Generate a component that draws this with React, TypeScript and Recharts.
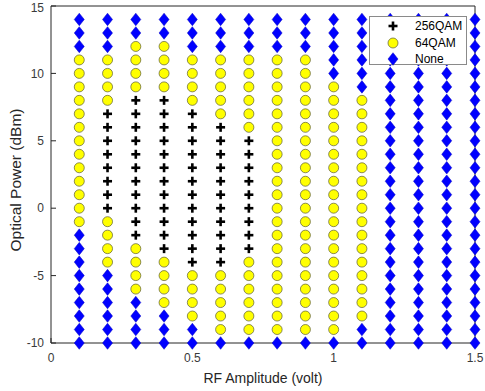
import React from 'react';
import { ScatterChart, Scatter, XAxis, YAxis, Legend, Label } from 'recharts';

const amplitudes = [0.1, 0.2, 0.3, 0.4, 0.5, 0.6, 0.7, 0.8, 0.9, 1.0, 1.1, 1.2, 1.3, 1.4, 1.5];
const powers = [-10, -9, -8, -7, -6, -5, -4, -3, -2, -1, 0, 1, 2, 3, 4, 5, 6, 7, 8, 9, 10, 11, 12, 13, 14];
// one string per amplitude, from -10 dBm up to 14 dBm: P = 256QAM, Y = 64QAM, D = None
const columns = [
  'DDDDDDDDDYYYYYYYYYYYYYDDD',
  'DDDDDDYYYYPPPPPPPPYYYYDDD',
  'DDDDYYYYPPPPPPPPPPPYYYYDD',
  'DDDYYYYPPPPPPPPPPPPYYYYDD',
  'DDYYYYPPPPPPPPPPPPYYYYDDD',
  'DYYYYYPPPPPPPPPPPYYYYYDDD',
  'DYYYYYYPPPPPPPPPYYYYYYDDD',
  'DYYYYYYYYYYYYYYYYYYYYYDDD',
  'DYYYYYYYYYYYYYYYYYYYYYDDD',
  'DYYYYYYYYYYYYYYYYYYYDDDDD',
  'DDYYYYYYYYYYYYYYYYYDDDDDD',
  'DDDDDDDDDDDDDDDDDDDDDDDDD',
  'DDDDDDDDDDDDDDDDDDDDDDDDD',
  'DDDDDDDDDDDDDDDDDDDDDDDDD',
  'DDDDDDDDDDDDDDDDDDDDDDDDD',
];
const xTicks = [0, 0.5, 1, 1.5];
const yTicks = [-10, -5, 0, 5, 10, 15];

const pick = (code: string) =>
  amplitudes.flatMap((a, i) =>
    powers.filter((_, j) => columns[i][j] === code).map((p) => ({ x: a, y: p }))
  );

const qam256 = pick('P');
const qam64 = pick('Y');
const none = pick('D');

const font = 'Arial, "Liberation Sans", sans-serif';
const axisColor = '#262626';
const tickColor = '#3a3a3a';

const Plus = ({ cx, cy }: any) => (
  <g stroke="#000" strokeWidth={2.6}>
    <line x1={cx - 4.5} y1={cy} x2={cx + 4.5} y2={cy} />
    <line x1={cx} y1={cy - 4.5} x2={cx} y2={cy + 4.5} />
  </g>
);
const Dot = ({ cx, cy }: any) => (
  <circle cx={cx} cy={cy} r={5} fill="#ffff00" stroke="#5a5a3a" strokeWidth={0.7} />
);
const Diamond = ({ cx, cy }: any) => (
  <path
    d={`M${cx},${cy - 6.3}L${cx + 5},${cy}L${cx},${cy + 6.3}L${cx - 5},${cy}Z`}
    fill="#0000ff"
    stroke="#0000c0"
    strokeWidth={0.5}
  />
);

const legendItems = [
  { name: '256QAM', Icon: Plus },
  { name: '64QAM', Icon: Dot },
  { name: 'None', Icon: Diamond },
];

const LegendBox = () => (
  <div
    style={{
      background: '#fff',
      border: '1px solid #8a8a8a',
      boxSizing: 'border-box',
      width: 98,
      height: 49,
      paddingTop: 1,
      fontFamily: font,
      fontSize: 12,
      color: '#000',
    }}
  >
    {legendItems.map(({ name, Icon }) => (
      <div key={name} style={{ display: 'flex', alignItems: 'center', height: 16.5 }}>
        <svg width={40} height={16} style={{ marginLeft: 3 }}>
          <Icon cx={20} cy={8} />
        </svg>
        <span style={{ marginLeft: 2 }}>{name}</span>
      </div>
    ))}
  </div>
);

const XTitle = () => (
  <text x={263} y={377.5} textAnchor="middle" dominantBaseline="central" fill={axisColor} fontSize={14} fontFamily={font}>
    RF Amplitude (volt)
  </text>
);
const YTitle = () => (
  <text
    x={15.5}
    y={180}
    transform="rotate(-90 15.5 180)"
    textAnchor="middle"
    dominantBaseline="central"
    fill={axisColor}
    fontSize={15.5}
    fontFamily={font}
  >
    Optical Power (dBm)
  </text>
);

export default function App() {
  return (
    <div style={{ position: 'absolute', left: 0, top: 0, background: '#fff' }}>
      <ScatterChart width={485} height={391} margin={{ top: 5, right: 9, left: 0, bottom: 0 }}>
        <XAxis
          xAxisId="b"
          type="number"
          dataKey="x"
          domain={[0, 1.5]}
          ticks={xTicks}
          height={48}
          tickSize={-5}
          tickMargin={15}
          stroke={axisColor}
          tick={{ fill: tickColor, fontSize: 12, fontFamily: font }}
        >
          <Label content={<XTitle />} />
        </XAxis>
        <XAxis
          xAxisId="t"
          orientation="top"
          type="number"
          domain={[0, 1.5]}
          ticks={xTicks}
          height={1}
          tickSize={-5}
          tickFormatter={() => ''}
          stroke={axisColor}
        />
        <YAxis
          yAxisId="l"
          type="number"
          dataKey="y"
          domain={[-10, 15]}
          ticks={yTicks}
          width={51}
          tickSize={-5}
          tickMargin={12}
          stroke={axisColor}
          tick={{ fill: tickColor, fontSize: 12, fontFamily: font }}
        >
          <Label content={<YTitle />} />
        </YAxis>
        <YAxis
          yAxisId="r"
          orientation="right"
          type="number"
          domain={[-10, 15]}
          ticks={yTicks}
          width={1}
          tickSize={-5}
          tickFormatter={() => ''}
          stroke={axisColor}
        />
        <Legend
          layout="vertical"
          align="center"
          verticalAlign="middle"
          content={() => <LegendBox />}
          wrapperStyle={{ left: 369, top: 16, width: 98, height: 49 }}
        />
        <Scatter name="256QAM" data={qam256} xAxisId="b" yAxisId="l" shape={Plus} isAnimationActive={false} />
        <Scatter name="64QAM" data={qam64} xAxisId="b" yAxisId="l" shape={Dot} isAnimationActive={false} />
        <Scatter name="None" data={none} xAxisId="b" yAxisId="l" shape={Diamond} isAnimationActive={false} />
      </ScatterChart>
    </div>
  );
}
